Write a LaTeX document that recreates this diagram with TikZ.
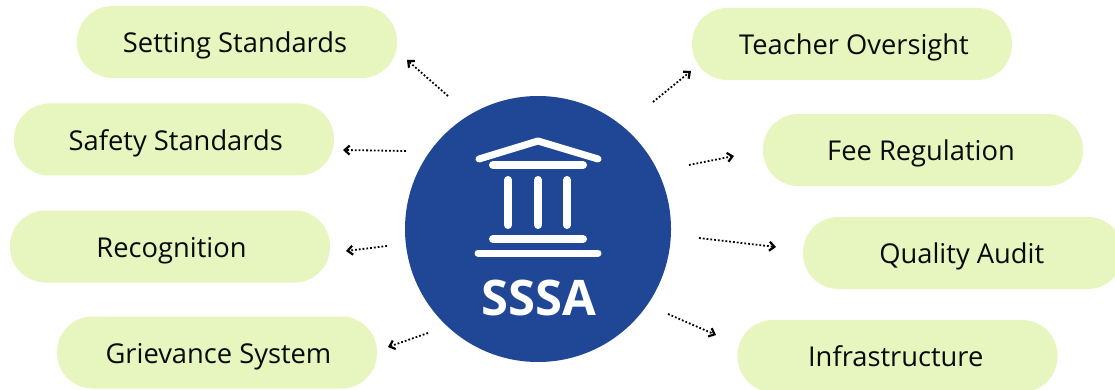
\documentclass[tikz,border=0pt]{standalone}
\usepackage{fontspec}
\setmainfont{Open Sans}
\usetikzlibrary{arrows.meta}
\definecolor{pillgreen}{HTML}{E6F6BE}
\definecolor{hubblue}{HTML}{1F4795}
\definecolor{inktext}{HTML}{0A0A0A}
\tikzset{
  pill/.style={fill=pillgreen,draw=none,rounded corners=35.5pt,minimum width=320pt,minimum height=72pt,inner sep=0pt,text=inktext,font=\fontsize{27.3}{32}\selectfont,anchor=center,text height=21.5pt,text depth=0pt},
  hub/.style={circle,fill=hubblue,draw=none,minimum size=266pt,inner sep=0pt},
  link/.style={black,line width=1.8pt,dash pattern=on 1.8pt off 2pt,-{Straight Barb[length=5pt,width=9pt,line width=2.2pt]}},
  iconthin/.style={white,line width=7pt,line cap=round,line join=round},
  iconthick/.style={white,line width=8pt,line cap=round},
  hublabel/.style={text=white,font=\fontsize{49}{56}\selectfont\bfseries,inner sep=0pt}
}
\newcommand{\offs}[2]{\hspace*{#1pt}#2}
\begin{document}
\begin{tikzpicture}[x=1pt,y=-1pt]
\path[use as bounding box,clip] (0,0) rectangle (1115,390);
\fill[white] (0,0) rectangle (1115,390);
\node[pill] (setting) at (237,42) {\offs{-4}{Setting Standards}};
\node[pill] (safety) at (174,139.5) {\offs{3.5}{Safety Standards}};
\node[pill] (recog) at (170,246.5) {\offs{3}{Recognition}};
\node[pill] (griev) at (217,352.5) {\offs{3}{Grievance System}};
\node[pill] (teacher) at (852,44) {\offs{4}{Teacher Oversight}};
\node[pill] (fee) at (923,150) {\offs{-4}{Fee Regulation}};
\node[pill] (quality) at (963,253) {\offs{-2.5}{Quality Audit}};
\node[pill] (infra) at (897.5,356) {\offs{-3.5}{Infrastructure}};
\node[hub] (hub) at (538,229) {};
\draw[iconthin] (479,159) -- (538,141) -- (598,159);
\draw[iconthick] (493,165) -- (583,165);
\draw[iconthick] (508,180) -- (508,225);
\draw[iconthick] (538,180) -- (538,225);
\draw[iconthick] (567,180) -- (567,225);
\draw[iconthick] (493,239) -- (583,239);
\draw[iconthin] (478,253) -- (598,253);
\node[hublabel] (hubtext) at (539,298) {SSSA};
\coordinate (a1s) at (448,96);  \coordinate (a1e) at (407,60);
\coordinate (a2s) at (406,151); \coordinate (a2e) at (343,150);
\coordinate (a3s) at (387,246); \coordinate (a3e) at (346,251);
\coordinate (a4s) at (428,333); \coordinate (a4e) at (388,347);
\coordinate (a5s) at (653,102); \coordinate (a5e) at (691,71);
\coordinate (a6s) at (689,165); \coordinate (a6e) at (734,156);
\coordinate (a7s) at (699,238); \coordinate (a7e) at (776,247);
\coordinate (a8s) at (668,314); \coordinate (a8e) at (716,335);
\foreach \i in {1,...,8} \draw[link] (a\i s) -- (a\i e);
\end{tikzpicture}
\end{document}
